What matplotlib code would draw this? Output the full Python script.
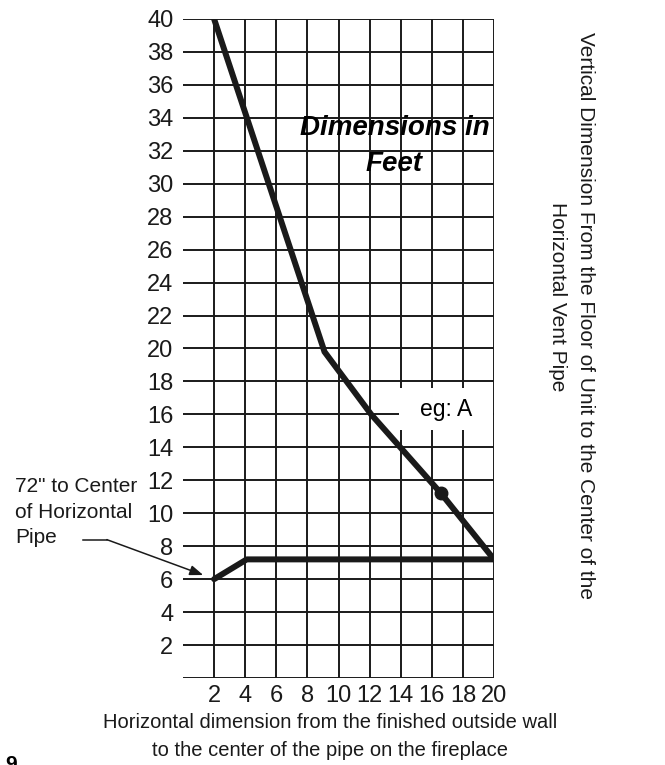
import matplotlib.pyplot as plt

plt.rcParams['font.family'] = ['Liberation Sans', 'DejaVu Sans']

# vent pipe chart data (feet)
upper_x = [2, 9.1, 12.1, 16.6, 20]
upper_y = [40, 19.8, 16, 11.2, 7.2]
lower_x = [2, 4.1, 20]
lower_y = [6, 7.2, 7.2]
point_a = (16.6, 11.2)

x_ticks = [2, 4, 6, 8, 10, 12, 14, 16, 18, 20]
y_ticks = [2, 4, 6, 8, 10, 12, 14, 16, 18, 20, 22, 24, 26, 28, 30, 32, 34, 36, 38, 40]
grid_y = [0] + y_ticks

fig = plt.figure(figsize=(6.65, 7.65), dpi=100)
ax = fig.add_axes([183 / 665, 87 / 765, 311 / 665, 659 / 765])
ax.set_xlim(0, 20)
ax.set_ylim(0, 40)

# grid
ax.hlines(grid_y, 0, 20, color='#1a1a1a', lw=1.4, zorder=1)
ax.vlines(x_ticks, -0.15, 40, color='#1a1a1a', lw=1.4, zorder=1)

# eg: A label box
ax.add_patch(plt.Rectangle((13.9, 15.05), 6.05, 2.55, facecolor='white',
                           edgecolor='none', zorder=2))
ax.text(16.9, 16.3, 'eg: A', fontsize=16.5, ha='center', va='center', zorder=3)

ax.plot(upper_x, upper_y, color='#1a1a1a', lw=4.3, solid_capstyle='round',
        solid_joinstyle='miter', zorder=4)
ax.plot(lower_x, lower_y, color='#1a1a1a', lw=4.3, solid_capstyle='round', zorder=4)
ax.plot(point_a[0], point_a[1], 'o', color='#1a1a1a', ms=9, zorder=5)

ax.text(13.6, 33.4, 'Dimensions in', fontsize=20, fontweight='bold',
        fontstyle='italic', ha='center', va='center', zorder=3)
ax.text(13.6, 31.2, 'Feet', fontsize=20, fontweight='bold',
        fontstyle='italic', ha='center', va='center', zorder=3)

ax.set_xticks(x_ticks)
ax.set_yticks(y_ticks)
ax.tick_params(length=0, labelsize=17, colors='#1a1a1a')
ax.tick_params(axis='x', pad=5)
ax.tick_params(axis='y', pad=7)
for s in ax.spines.values():
    s.set_visible(False)

# left annotation with arrow
fig.text(15 / 665, 1 - 512 / 765, '72" to Center\nof Horizontal\nPipe',
         fontsize=15, ha='left', va='center', linespacing=1.45, color='#1a1a1a')
ax.plot([-6.4, -4.9], [8.4, 8.4], color='#1a1a1a', lw=1.1, clip_on=False)
ax.annotate('', xy=(1.3, 6.25), xytext=(-4.9, 8.4),
            arrowprops=dict(arrowstyle='-|>,head_length=0.8,head_width=0.3',
                            color='#1a1a1a', lw=1.1, shrinkA=0, shrinkB=0),
            annotation_clip=False)

# axis captions
fig.text(330 / 665, 1 - 722 / 765, 'Horizontal dimension from the finished outside wall',
         fontsize=14.5, ha='center', va='center', color='#1a1a1a')
fig.text(330 / 665, 1 - 750 / 765, 'to the center of the pipe on the fireplace',
         fontsize=14.5, ha='center', va='center', color='#1a1a1a')
fig.text(585 / 665, 1 - 32 / 765,
         'Vertical Dimension From the Floor of Unit to the Center of the',
         fontsize=15, rotation=-90, ha='center', va='top', color='#1a1a1a')
fig.text(557 / 665, 1 - 297 / 765, 'Horizontal Vent Pipe',
         fontsize=15, rotation=-90, ha='center', va='center', color='#1a1a1a')

# page number cut off at the bottom, as in the scan
fig.text(5 / 665, 0.0, '9', fontsize=15, fontweight='bold', ha='left', va='center')

plt.savefig('out.png', dpi=100)
